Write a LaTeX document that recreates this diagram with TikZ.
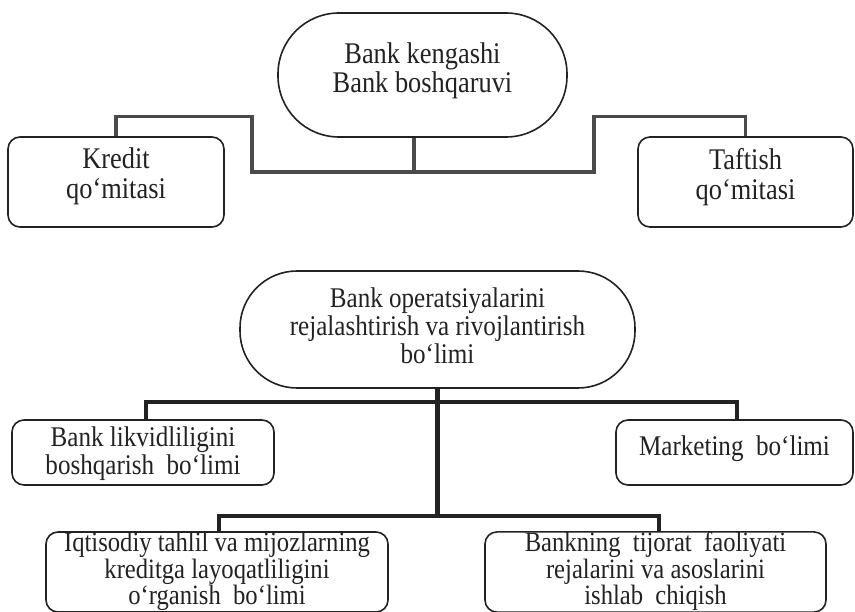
\documentclass[tikz,border=0pt]{standalone}
\usepackage{fontspec}
\usepackage{graphicx}
\setmainfont{Liberation Serif}
\usetikzlibrary{calc}
\definecolor{ink}{HTML}{222222}
\definecolor{linkgray}{HTML}{4A4A4A}
% narrow serif lines, stacked and centred, shifted vertically by #1
\newcommand{\narrowtext}[2][0pt]{\raisebox{#1}[\height][\depth]{%
  \scalebox{0.88}[1]{\renewcommand{\arraystretch}{1}%
  \begin{tabular}{@{}c@{}}#2\end{tabular}}}}
\tikzset{
  box/.style={draw=ink, line width=1.6pt, rounded corners=12pt, align=center,
    text=ink, inner sep=0pt},
  bigfont/.style={font=\fontsize{30}{27}\selectfont},
  midfont/.style={font=\fontsize{30}{30}\selectfont},
  smallfont/.style={font=\fontsize{28.5}{26.5}\selectfont},
  lowfont/.style={font=\fontsize{28}{24}\selectfont},
  toplink/.style={draw=linkgray, line width=3.3pt},
  botlink/.style={draw=ink, line width=4.2pt},
}
\begin{document}
\begin{tikzpicture}[x=1pt, y=-1pt]
\useasboundingbox (0,0) rectangle (855,612);

% upper group: board and committees
\node[box, bigfont, rounded corners=61pt, minimum width=289pt, minimum height=124pt]
  (board) at (422.5,75) {\narrowtext[3.5pt]{Bank kengashi\\Bank boshqaruvi}};
\node[box, midfont, minimum width=216pt, minimum height=90pt]
  (credit) at (116,182) {\narrowtext[4pt]{Kredit\\qo‘mitasi}};
\node[box, midfont, minimum width=215pt, minimum height=90pt]
  (audit) at (745.5,182) {\narrowtext[4pt]{Taftish\\qo‘mitasi}};

\coordinate (bj) at (414,172);
\coordinate (tl) at (252,172);
\coordinate (tr) at (594,172);
\draw[toplink] (bj |- board.south) -- (bj);
\draw[toplink] (credit.north) -- ++(0,-20) -| (tl) -- (tr)
  |- ($(audit.north)+(0,-20)$) -- (audit.north);

% lower group: planning department and its units
\node[box, smallfont, rounded corners=57pt, minimum width=395pt, minimum height=117pt]
  (plan) at (437.5,329.5)
  {\narrowtext{Bank operatsiyalarini\\rejalashtirish va rivojlantirish\\bo‘limi}};
\node[box, smallfont, minimum width=262pt, minimum height=65pt]
  (liq) at (143,452.5) {\narrowtext[-2pt]{Bank likvidliligini\\boshqarish\ \ bo‘limi}};
\node[box, smallfont, minimum width=237pt, minimum height=65pt]
  (mkt) at (734.5,452.5) {\narrowtext[3pt]{Marketing\ \ bo‘limi}};
\node[box, lowfont, minimum width=342pt, minimum height=80pt]
  (econ) at (217,572)
  {\narrowtext{Iqtisodiy tahlil va mijozlarning\\kreditga layoqatliligini\\o‘rganish\ \ bo‘limi}};
\node[box, lowfont, minimum width=341pt, minimum height=80pt]
  (biz) at (655.5,572)
  {\narrowtext{Bankning\ \ tijorat\ \ faoliyati\\rejalarini va asoslarini\\ishlab\ \ chiqish}};

\coordinate (ul) at (146,402);
\coordinate (ur) at (737,402);
\coordinate (ll) at (219,516);
\coordinate (lr) at (659,516);
\draw[botlink] (plan.south) -- (plan.south |- ll);
\draw[botlink] (ul |- liq.north) -- (ul) -- (ur) -- (ur |- mkt.north);
\draw[botlink] (ll |- econ.north) -- (ll) -- (lr) -- (lr |- biz.north);
\end{tikzpicture}
\end{document}
